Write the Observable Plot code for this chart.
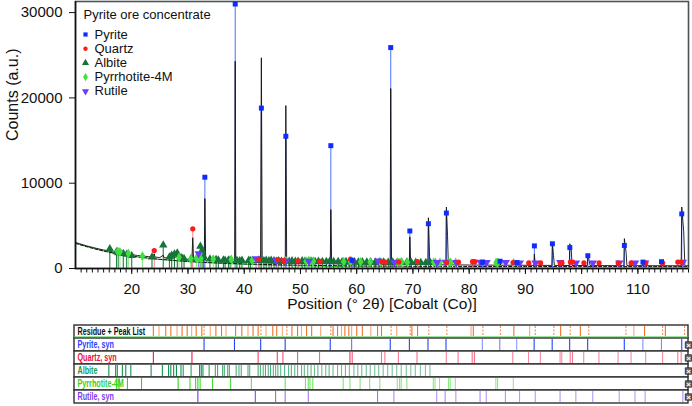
<!DOCTYPE html>
<html><head><meta charset="utf-8">
<script src="https://cdn.jsdelivr.net/npm/d3@7"></script>
<script src="https://cdn.jsdelivr.net/npm/@observablehq/plot@0.6"></script>
<style>
body{margin:0;background:#fff;}
#wrap{position:relative;width:692px;height:406px;overflow:hidden;background:#fff;}
#main{position:absolute;left:0;top:0;}
#strip{position:absolute;left:0;top:320px;}
</style></head><body><div id="wrap"><div id="main"></div><div id="strip"></div></div>
<script>
// ---------- axes / text ----------
const xDomain = [10, 119];
const yDomain = [0, 31300];
const xMajorTicks = [20, 30, 40, 50, 60, 70, 80, 90, 100, 110];
const yTicks = [0, 10000, 20000, 30000];
const xLabel = "Position (° 2θ) [Cobalt (Co)]";
const yLabel = "Counts (a.u.)";
const legendTitle = "Pyrite ore concentrate";
const legendLabels = ["Pyrite", "Quartz", "Albite", "Pyrrhotite-4M", "Rutile"];
const rowLabels = ["Residue + Peak List", "Pyrite, syn", "Quartz, syn", "Albite", "Pyrrhotite-4M", "Rutile, syn"];

// ---------- measured pattern [2θ, counts] ----------
const observed = [[10,3050],[11,2850],[12,2650],[13,2480],[14,2320],[15,2170],[16.0,2050],[16.1,2150],[16.25,1990],[17,1880],[17.5,1850],[17.9,1820],[18.5,1760],[19,1700],[20,1620],[21,1530],[22,1460],[23,1390],[23.6,1360],[24.0,1700],[24.15,1330],[25,1290],[25.6,1550],[25.75,1260],[26.5,1220],[27.1,1350],[27.3,1190],[28.1,1450],[28.3,1160],[29,1120],[30,1080],[30.7,1050],[30.85,3600],[31.0,1030],[31.9,1100],[32.2,1500],[32.4,1000],[32.9,980],[33.0,8200],[33.15,970],[34,940],[35,900],[35.2,1050],[35.4,890],[36,860],[37,830],[38,800],[38.3,790],[38.4,24300],[38.5,790],[39,780],[40,750],[41,730],[42,710],[42.9,700],[43.05,24700],[43.2,700],[44,680],[45,660],[46,650],[47.3,640],[47.4,19100],[47.55,640],[48.5,620],[50,600],[52,580],[54,560],[55.3,550],[55.4,6900],[55.55,550],[57,540],[59.1,520],[59.2,900],[59.3,520],[61,510],[63,500],[65.95,490],[66.05,21100],[66.2,490],[68,480],[69.35,470],[69.45,3700],[69.6,470],[71,460],[72.65,450],[72.75,5950],[72.9,2900],[73.0,450],[74,440],[75.85,430],[75.95,7200],[76.15,3900],[76.3,430],[78,420],[80,410],[82.3,400],[82.4,750],[82.5,400],[85.4,390],[85.5,800],[85.6,390],[88.4,380],[88.5,650],[88.6,380],[91.5,370],[91.6,1700],[91.75,370],[94.7,360],[94.8,2950],[95.0,1500],[95.15,360],[97.8,350],[97.9,2900],[98.15,2200],[98.3,350],[101.0,345],[101.1,1600],[101.35,900],[101.5,345],[104,340],[107.5,335],[107.6,3500],[107.9,1900],[108.05,335],[110.8,330],[110.9,600],[111.0,330],[114.1,325],[114.2,700],[114.3,325],[117.7,320],[117.8,7200],[118.15,4300],[118.35,320],[119,320]];
// background (dashed) and green curve
const background = [[10,2950],[12,2550],[14,2200],[16,1900],[18,1650],[20,1450],[22,1280],[25,1080],[28,920],[31,790],[34,690],[37,610],[40,540],[45,450],[50,390],[55,340],[60,300],[70,260],[80,240],[90,230],[100,225],[110,220],[119,215]];
const greenCurve = [[10,2950],[15,2050],[20,1450],[25,1050],[30,800],[35,620],[40,480],[50,300],[60,190],[70,120],[80,80],[90,60],[100,50],[119,40]];

// ---------- phases: stick positions (2θ) and marker heights (counts) ----------
const pyritePos = [33.0, 38.4, 43.05, 47.4, 55.4, 59.2, 66.05, 69.45, 72.75, 75.95, 82.4, 85.5, 88.5, 91.6, 94.8, 97.9, 101.1, 107.6, 110.9, 114.2, 117.8];
const pyriteCounts = [10700, 31000, 18800, 15500, 14400, 950, 25900, 4400, 5250, 6500, 750, 850, 700, 2650, 2900, 2450, 1500, 2700, 750, 800, 6400];
const quartzPos = [24.0, 30.85, 42.6, 46.0, 47.0, 49.6, 53.5, 58.9, 59.3, 64.5, 65.1, 67.5, 70.8, 76.0, 78.1, 80.6, 81.0, 87.8, 90.6, 92.7, 96.2, 96.5, 98.0, 98.4, 100.4, 103.1, 106.5, 108.8, 111.4, 114.4, 117.1, 117.7];
const quartzCounts = [2100, 4650, 1050, 1050, 950, 900, 850, 1100, 900, 800, 750, 750, 800, 700, 750, 800, 800, 700, 650, 650, 650, 650, 750, 750, 650, 650, 650, 650, 650, 650, 750, 750];
const albitePos = [16.1, 17.3, 17.6, 18.5, 19.1, 20.0, 23.6, 25.6, 26.7, 27.1, 27.6, 28.1, 28.9, 29.3, 30.7, 32.2, 32.5, 32.8, 33.9, 35.0, 35.4, 36.3, 36.6, 37.2, 37.5, 38.7, 39.2, 39.6, 40.8, 41.1, 42.6, 43.0, 43.5, 43.9, 44.4, 44.8, 45.3, 45.7, 46.1, 46.6, 47.3, 48.0, 48.5, 49.1, 49.6, 50.3, 50.8, 51.4, 52.0, 52.6, 53.2, 53.9, 54.6, 55.2, 55.9, 56.7, 57.4, 58.1, 58.8, 59.6, 60.3, 61.0, 61.8, 62.5, 63.3, 64.0, 64.8, 65.6, 66.4, 67.2, 68.0, 68.9, 69.7, 70.5, 71.4, 72.3, 73.1];
const albiteCounts = [2300, 1950, 1850, 1750, 1650, 1500, 1350, 2750, 1350, 1550, 1700, 1800, 1250, 1150, 1100, 2600, 2100, 1400, 1100, 1050, 1000, 1000, 950, 1000, 950, 950, 900, 950, 950, 900, 1000, 950, 900, 950, 900, 950, 900, 850, 900, 850, 900, 850, 900, 850, 850, 900, 850, 800, 850, 800, 850, 800, 800, 850, 800, 800, 780, 800, 760, 780, 760, 780, 750, 760, 740, 750, 740, 730, 740, 720, 730, 720, 710, 720, 700, 700, 700];
const pyrrhotitePos = [17.5, 17.9, 19.4, 21.9, 28.4, 30.5, 31.5, 31.9, 32.3, 34.5, 37.7, 41.4, 47.4, 51.0, 51.5, 51.8, 52.3, 57.7, 58.9, 60.7, 62.4, 64.2, 67.3, 67.7, 68.0, 69.0, 73.7, 74.0, 74.8, 76.4, 76.7, 77.6, 84.8, 85.1, 87.9];
const pyrrhotiteCounts = [2000, 1950, 1750, 1450, 1300, 1150, 1200, 1250, 1150, 1100, 1050, 950, 900, 850, 900, 850, 850, 800, 800, 780, 760, 760, 750, 740, 740, 730, 720, 700, 700, 700, 700, 700, 700, 700, 650];
const rutilePos = [31.9, 42.1, 45.7, 47.4, 51.5, 63.8, 66.7, 74.3, 75.8, 77.7, 82.0, 83.1, 86.5, 89.0, 91.8, 96.2, 99.0, 102.0, 106.7, 109.5, 111.3, 118.0];
const rutileCounts = [1750, 1150, 950, 900, 850, 900, 750, 700, 750, 700, 750, 700, 700, 650, 650, 700, 650, 650, 650, 650, 650, 750];
// peak list (bottom strip, first row)
const peakListPos = [24.0, 25.0, 26.2, 27.1, 28.2, 29.1, 30.0, 30.8, 31.6, 32.6, 34.1, 35.1, 36.1, 36.9, 38.6, 39.7, 40.8, 41.7, 42.6, 44.0, 45.2, 45.9, 46.9, 48.6, 49.6, 50.3, 51.2, 52.1, 53.7, 55.9, 56.7, 57.4, 58.0, 58.7, 59.2, 60.1, 61.1, 62.6, 63.8, 64.5, 67.2, 69.9, 70.9, 80.4, 80.8, 88.0, 90.8, 96.3, 99.8, 109.3, 111.2, 114.9];
const peakListDashedPos = [33.0, 43.1, 47.7, 55.5, 66.2, 69.6, 72.9, 76.1, 82.5, 85.6, 91.8, 95.1, 98.0, 101.3, 107.9, 114.4, 118.3];

// ---------- styles ----------
const FONT = "Liberation Sans, Arial, Helvetica, sans-serif";
const invTriangle = {draw(ctx, size) {
  const y = Math.sqrt(size / (3 * Math.sqrt(3)));
  ctx.moveTo(0, 2 * y); ctx.lineTo(-Math.sqrt(3) * y, -y); ctx.lineTo(Math.sqrt(3) * y, -y); ctx.closePath();
}};
const tickMark = {draw(ctx, size) { ctx.moveTo(0, 0); ctx.lineTo(0, 4); }};
const phases = [
  {name: "Albite", pos: albitePos, counts: albiteCounts, stick: "#1f7d3f", mark: "#17733a", strip: "#0f9450", symbol: "triangle", r: 3.1, row: rowLabels[3]},
  {name: "Pyrrhotite-4M", pos: pyrrhotitePos, counts: pyrrhotiteCounts, stick: "#8fe88f", mark: "#3fe03f", strip: "#2ed61a", symbol: "diamond", r: 3.0, row: rowLabels[4]},
  {name: "Rutile", pos: rutilePos, counts: rutileCounts, stick: "#a07cff", mark: "#6a3cff", strip: "#7038f0", symbol: invTriangle, r: 3.1, row: rowLabels[5]},
  {name: "Quartz", pos: quartzPos, counts: quartzCounts, stick: "#ff8a9c", mark: "#ff1a1a", strip: "#e81a44", symbol: "circle", r: 2.6, row: rowLabels[2]},
  {name: "Pyrite", pos: pyritePos, counts: pyriteCounts, stick: "#5a7cff", mark: "#0f2cff", strip: "#1f44ff", symbol: "square", r: 2.8, row: rowLabels[1]}
];
const legendOrder = ["Pyrite", "Quartz", "Albite", "Pyrrhotite-4M", "Rutile"];

const toPts = (p) => p.pos.map((x, i) => ({x, y: p.counts[i]}));

const mainMarks = [
  Plot.frame({stroke: "#4b5353", strokeWidth: 1.6}),
  Plot.line(greenCurve, {x: d => d[0], y: d => d[1], stroke: "#3cc83c", strokeWidth: 1}),
  ...phases.map(p => Plot.ruleX(toPts(p), {x: "x", y: "y", stroke: p.stick, strokeWidth: 1.1})),
  Plot.line(observed, {x: d => d[0], y: d => d[1], stroke: "#111", strokeWidth: 1, strokeOpacity: 0.9}),
  Plot.line(background, {x: d => d[0], y: d => d[1], stroke: "#111", strokeWidth: 1, strokeDasharray: "3,2"}),
  ...phases.map(p => Plot.dot(toPts(p), {x: "x", y: "y", symbol: p.symbol, r: p.r, fill: p.mark, stroke: "none"})),
  Plot.dot(d3.range(11, 120), {x: d => d, frameAnchor: "bottom", symbol: tickMark, stroke: "#111", fill: "none", strokeWidth: 1}),
  Plot.axisX({ticks: xMajorTicks, tickSize: 6, tickPadding: 9, label: null, tickFormat: d => String(d), fontSize: 15, fill: "#111", stroke: "#111"}),
  Plot.axisY({ticks: yTicks, tickSize: 6, tickPadding: 7, label: null, tickFormat: d3.format("d"), fontSize: 15, fill: "#111", stroke: "#111"}),
  Plot.ruleX([xDomain[0]], {stroke: "#111", strokeWidth: 1.5}),
  Plot.ruleY([yDomain[0]], {stroke: "#111", strokeWidth: 1.5}),
  Plot.text([xLabel], {frameAnchor: "bottom", lineAnchor: "middle", dy: 36, fontSize: 15.5, fill: "#111"}),
  Plot.text([yLabel], {frameAnchor: "left", dx: -63, dy: 6, rotate: -90, fontSize: 16, fill: "#111"}),
  Plot.text([legendTitle], {frameAnchor: "top-left", lineAnchor: "middle", dx: 8, dy: 13, textAnchor: "start", fontSize: 13, fill: "#111"}),
  ...legendOrder.flatMap((name, i) => {
    const p = phases.find(q => q.name === name);
    return [
      Plot.dot([name], {frameAnchor: "top-left", dx: 10, dy: 33 + i * 14.2, symbol: p.symbol, r: p.r * 0.85, fill: p.mark}),
      Plot.text([legendLabels[i]], {frameAnchor: "top-left", lineAnchor: "middle", dx: 19, dy: 33 + i * 14.2, textAnchor: "start", fontSize: 13, fill: "#111"})
    ];
  })
];

const mainChart = Plot.plot({
  width: 692, height: 315,
  marginLeft: 75, marginRight: 4, marginTop: 1, marginBottom: 47,
  x: {domain: xDomain},
  y: {domain: yDomain},
  style: {fontFamily: FONT, background: "white", color: "#111", overflow: "visible"},
  marks: mainMarks
});
document.getElementById("main").appendChild(mainChart);

// ---------- bottom strip ----------
const rowColors = ["#111111", "#2a40ff", "#e8103c", "#17995a", "#33d11f", "#7a3cf0"];
const opacityOf = c => Math.max(0.5, Math.min(1, 0.45 + (c - 600) / 1200));
const stickData = phases.flatMap(p => p.pos.map((x, i) => ({row: p.row, x, stroke: p.strip, op: opacityOf(p.counts[i])})));
const peakSolid = peakListPos.map((x, i) => ({row: rowLabels[0], x, op: i % 3 === 1 ? 0.6 : 0.95}));
const peakDashed = peakListDashedPos.map(x => ({row: rowLabels[0], x}));

const strip = Plot.plot({
  width: 692, height: 86,
  marginLeft: 74, marginRight: 4, marginTop: 4, marginBottom: 2,
  x: {domain: xDomain, axis: null},
  y: {type: "band", domain: rowLabels, padding: 0, axis: null},
  color: {type: "identity"},
  opacity: {type: "identity"},
  style: {fontFamily: FONT, background: "white", overflow: "visible"},
  marks: [
    Plot.barX(rowLabels, {x1: xDomain[0], x2: xDomain[1], y: d => d, fill: "white", stroke: "#2e2e2e", strokeWidth: 1.4}),
    Plot.tickX(peakSolid, {x: "x", y: "row", stroke: "#f06a1e", strokeOpacity: "op", strokeWidth: 1.1, insetTop: 1, insetBottom: 2}),
    Plot.tickX(peakDashed, {x: "x", y: "row", stroke: "#f08a4e", strokeWidth: 1.1, strokeDasharray: "2,1.5", insetTop: 1, insetBottom: 2}),
    Plot.ruleY([rowLabels[0]], {y: d => d, dy: 5, stroke: "#3cc83c", strokeWidth: 1.2}),
    Plot.tickX(stickData, {x: "x", y: "row", stroke: "stroke", strokeOpacity: "op", strokeWidth: 1.1, insetTop: 1, insetBottom: 1}),
    Plot.text(rowLabels, {x: xDomain[0], y: d => d, text: d => d, textAnchor: "start", dx: 3, dy: -0.5, fontSize: 10, fontWeight: "bold", fill: (d) => rowColors[rowLabels.indexOf(d)]}),
    Plot.dot(rowLabels.slice(1), {x: xDomain[1], y: d => d, symbol: "square", r: 3.6, fill: "#6a6a6a", stroke: "#222", strokeWidth: 0.8}),
    Plot.text(rowLabels.slice(1), {x: xDomain[1], y: d => d, text: () => "×", fill: "white", fontSize: 8, fontWeight: "bold"})
  ]
});
// condense the row labels horizontally (narrow label font in the reference)
strip.querySelectorAll("text").forEach(t => {
  if (!rowLabels.includes(t.textContent)) return;
  const tr = t.getAttribute("transform");
  if (tr) t.setAttribute("transform", tr + " scale(0.72,1)");
  else {
    const x = +t.getAttribute("x") || 0, y = +t.getAttribute("y") || 0;
    t.setAttribute("transform", `translate(${x},${y}) scale(0.72,1) translate(${-x},${-y})`);
  }
});
document.getElementById("strip").appendChild(strip);
</script></body></html>
